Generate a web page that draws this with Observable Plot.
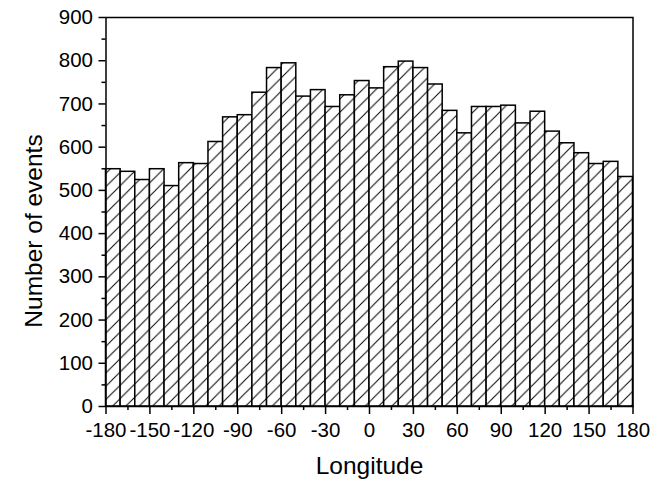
<!DOCTYPE html>
<html><head><meta charset="utf-8">
<script src="https://cdn.jsdelivr.net/npm/d3@7"></script>
<script src="https://cdn.jsdelivr.net/npm/@observablehq/plot@0.6"></script>
<style>
body{margin:0;background:#fff}
#chart g[aria-label="x-axis tick label"], #chart g[aria-label="y-axis tick label"],
#chart g[aria-label="x-axis tick label"] text, #chart g[aria-label="y-axis tick label"] text { font-size: 20.5px !important; }
</style>
</head><body><div id="chart"></div>
<script>
const binStart = [-180,-170,-160,-150,-140,-130,-120,-110,-100,-90,-80,-70,-60,-50,-40,-30,-20,-10,0,10,20,30,40,50,60,70,80,90,100,110,120,130,140,150,160,170];
const binEnd   = [-170,-160,-150,-140,-130,-120,-110,-100,-90,-80,-70,-60,-50,-40,-30,-20,-10,0,10,20,30,40,50,60,70,80,90,100,110,120,130,140,150,160,170,180];
const counts   = [549,543,524,549,510,563,561,612,669,674,726,783,794,717,732,693,720,753,736,785,798,783,745,684,632,693,693,696,655,682,636,609,586,561,566,531];
const xTicks = [-180,-150,-120,-90,-60,-30,0,30,60,90,120,150,180];
const xMinor = [-165,-135,-105,-75,-45,-15,15,45,75,105,135,165];
const yTicks = [0,100,200,300,400,500,600,700,800,900];
const yMinor = [50,150,250,350,450,550,650,750,850];
const xLabel = "Longitude";
const yLabel = "Number of events";

const data = counts.map((c, i) => ({x1: binStart[i], x2: binEnd[i], y: c}));
const font = '"Liberation Sans", Arial, sans-serif';

const chart = Plot.plot({
  width: 671, height: 481,
  marginLeft: 105.5, marginRight: 38.5, marginTop: 17, marginBottom: 75,
  style: {fontFamily: font, fontSize: "20px", color: "black", background: "white"},
  x: {domain: [-180, 180]},
  y: {domain: [0, 900]},
  marks: [
    Plot.rectY(data, {x1: "x1", x2: "x2", y: "y", fill: "url(#hatch)", stroke: "black", strokeWidth: 1.5}),
    Plot.frame({stroke: "black", strokeWidth: 1.5}),
    Plot.axisX({ticks: xTicks, tickSize: 8, tickPadding: 8, tickFormat: d => String(d), label: null, strokeWidth: 1.5, fontSize: 20.5}),
    Plot.axisX({ticks: xMinor, tickSize: 4, text: null, label: null, strokeWidth: 1.5}),
    Plot.axisY({ticks: yTicks, tickSize: 7, tickPadding: 6, tickFormat: d => String(d), label: null, strokeWidth: 1.5, fontSize: 20.5}),
    Plot.axisY({ticks: yMinor, tickSize: 4, text: null, label: null, strokeWidth: 1.5}),
    Plot.text([xLabel], {frameAnchor: "bottom", text: d => d, textAnchor: "middle", lineAnchor: "bottom", dy: 67, fontSize: 24.5, fill: "black"}),
    Plot.text([yLabel], {frameAnchor: "left", text: d => d, rotate: -90, textAnchor: "middle", lineAnchor: "middle", dx: -71.5, dy: 19, fontSize: 24.5, fill: "black"})
  ]
});

const svg = d3.select(chart);
const defs = svg.insert("defs", ":first-child");
const s = 13.3;
const pat = defs.append("pattern")
  .attr("id", "hatch").attr("patternUnits", "userSpaceOnUse")
  .attr("width", s).attr("height", s);
pat.append("rect").attr("width", s).attr("height", s).attr("fill", "white");
pat.append("path").attr("d", `M0,${s}L${s},0M-2,2L2,-2M${s-2},${s+2}L${s+2},${s-2}`)
  .attr("stroke", "black").attr("stroke-width", 1).attr("fill", "none");

document.getElementById("chart").appendChild(chart);
</script>
</body></html>
